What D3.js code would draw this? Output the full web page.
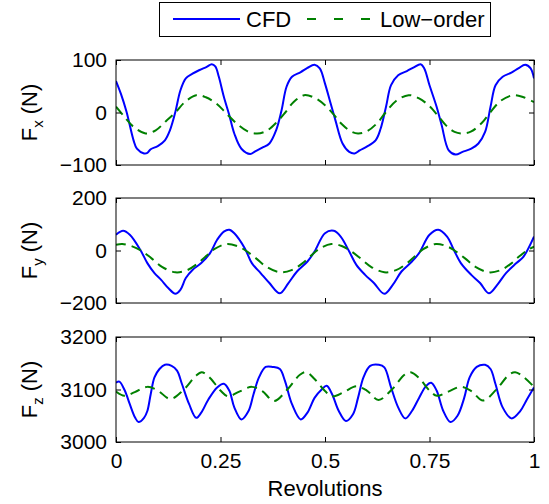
<!DOCTYPE html>
<html>
<head>
<meta charset="utf-8">
<script src="https://cdn.jsdelivr.net/npm/d3@7"></script>
<style>
  html, body { margin: 0; padding: 0; background: #fff; }
  svg { display: block; }
  text { font-family: "Liberation Sans", Arial, Helvetica, sans-serif; fill: #000; }
</style>
</head>
<body>
<svg id="chart" width="549" height="504"></svg>
<script>
// Rotor hub forces over one revolution: CFD vs low-order model

const revTicks = [0, 0.25, 0.5, 0.75, 1];
const revTickLabels = ["0", "0.25", "0.5", "0.75", "1"];
const seriesNames = ["CFD", "Low\u2212order"];

// [revolution, force N]
const fxCfd = [
  [0, 60], [0.012, 35], [0.025, 2], [0.042, -53], [0.05, -69], [0.067, -78], [0.075, -77],
  [0.083, -70], [0.1, -64], [0.117, -53], [0.129, -34], [0.142, 1], [0.154, 42], [0.167, 65],
  [0.183, 74], [0.2, 81], [0.217, 87], [0.229, 92], [0.2375, 88], [0.246, 68], [0.258, 30],
  [0.271, -5], [0.283, -40], [0.3, -69], [0.321, -79], [0.333, -74], [0.35, -67], [0.367, -59],
  [0.383, -34], [0.396, 4], [0.408, 49], [0.421, 68], [0.442, 77], [0.458, 85], [0.475, 91],
  [0.4875, 84], [0.5, 55], [0.5125, 20], [0.525, -15], [0.542, -59], [0.558, -75], [0.571, -78],
  [0.583, -72], [0.6, -65], [0.621, -53], [0.633, -31], [0.646, 11], [0.658, 52], [0.675, 71],
  [0.696, 79], [0.7125, 86], [0.729, 92], [0.7375, 84], [0.75, 52], [0.767, 11], [0.779, -24],
  [0.796, -72], [0.8125, -80], [0.829, -75], [0.85, -69], [0.867, -59], [0.883, -37], [0.896, 11],
  [0.908, 52], [0.925, 68], [0.946, 76], [0.9625, 84], [0.979, 91], [0.992, 84], [1.0, 65]
];
const fxLow = [
  [0, 11], [0.02, -8], [0.04, -26], [0.071, -40], [0.095, -34], [0.12, -16], [0.142, 0],
  [0.165, 20], [0.192, 33], [0.215, 29], [0.24, 17], [0.262, 0], [0.29, -22], [0.315, -36],
  [0.3375, -40], [0.36, -35], [0.385, -18], [0.405, 0], [0.425, 20], [0.45, 33], [0.475, 28],
  [0.5, 14], [0.52, -3], [0.54, -22], [0.56, -35], [0.579, -40], [0.6, -36], [0.625, -20],
  [0.645, 0], [0.67, 22], [0.70, 33], [0.725, 27], [0.75, 12], [0.77, -6], [0.79, -25],
  [0.81, -37], [0.829, -40], [0.85, -36], [0.875, -20], [0.895, 0], [0.92, 22], [0.95, 33],
  [0.975, 29], [1.0, 20]
];

const fyCfd = [
  [0, 60], [0.017, 75], [0.033, 60], [0.058, 3], [0.075, -48], [0.092, -86], [0.108, -112],
  [0.125, -143], [0.142, -165], [0.154, -150], [0.167, -105], [0.183, -74], [0.204, -48],
  [0.225, -10], [0.242, 41], [0.258, 72], [0.271, 79], [0.283, 66], [0.308, 9], [0.325, -48],
  [0.346, -86], [0.367, -124], [0.392, -163], [0.4125, -124], [0.433, -80], [0.458, -42],
  [0.475, -4], [0.5, 66], [0.521, 75], [0.5375, 53], [0.558, -4], [0.575, -55], [0.596, -93],
  [0.617, -124], [0.642, -165], [0.6625, -130], [0.683, -80], [0.708, -42], [0.725, -10],
  [0.75, 60], [0.771, 79], [0.792, 53], [0.808, 3], [0.825, -48], [0.85, -93], [0.871, -124],
  [0.892, -163], [0.9125, -130], [0.933, -86], [0.958, -48], [0.975, -23], [1.0, 53]
];
const fyLow = [
  [0, 22], [0.015, 25], [0.035, 18], [0.06, 0], [0.085, -30], [0.11, -62], [0.142, -83],
  [0.17, -75], [0.195, -50], [0.215, -22], [0.235, 5], [0.265, 25], [0.29, 17], [0.31, 0],
  [0.335, -30], [0.36, -62], [0.392, -83], [0.42, -75], [0.445, -50], [0.465, -22], [0.485, 5],
  [0.515, 25], [0.54, 17], [0.56, 0], [0.585, -30], [0.61, -62], [0.642, -83], [0.67, -75],
  [0.695, -50], [0.715, -22], [0.735, 5], [0.765, 25], [0.79, 17], [0.81, 0], [0.835, -30],
  [0.86, -62], [0.892, -83], [0.92, -75], [0.945, -50], [0.965, -22], [0.985, 2], [1.0, 15]
];

const fzCfd = [
  [0, 3113], [0.008, 3115], [0.021, 3098], [0.033, 3072], [0.046, 3046], [0.054, 3038],
  [0.067, 3046], [0.075, 3059], [0.083, 3091], [0.092, 3123], [0.104, 3139], [0.117, 3147],
  [0.133, 3145], [0.146, 3136], [0.158, 3110], [0.175, 3072], [0.192, 3046], [0.204, 3056],
  [0.221, 3081], [0.242, 3104], [0.258, 3111], [0.271, 3098], [0.283, 3066], [0.3, 3043],
  [0.317, 3059], [0.329, 3091], [0.342, 3123], [0.358, 3143], [0.375, 3143], [0.392, 3139],
  [0.404, 3117], [0.421, 3072], [0.442, 3043], [0.458, 3056], [0.475, 3084], [0.492, 3100],
  [0.504, 3107], [0.517, 3091], [0.533, 3059], [0.55, 3040], [0.567, 3053], [0.579, 3084],
  [0.592, 3123], [0.608, 3145], [0.629, 3147], [0.642, 3142], [0.658, 3104], [0.675, 3066],
  [0.692, 3045], [0.708, 3059], [0.725, 3084], [0.742, 3107], [0.754, 3113], [0.767, 3098],
  [0.783, 3059], [0.8, 3038], [0.817, 3050], [0.833, 3084], [0.846, 3123], [0.863, 3143],
  [0.883, 3147], [0.896, 3139], [0.908, 3110], [0.925, 3066], [0.946, 3045], [0.967, 3059],
  [0.983, 3081], [1.0, 3104]
];
const fzLow = [
  [0, 3096], [0.02, 3088], [0.045, 3095], [0.075, 3105], [0.1, 3098], [0.13, 3082], [0.16, 3098],
  [0.19, 3125], [0.205, 3133], [0.225, 3122], [0.25, 3098], [0.268, 3087], [0.295, 3096],
  [0.325, 3105], [0.35, 3097], [0.378, 3078], [0.41, 3100], [0.44, 3128], [0.455, 3133],
  [0.475, 3120], [0.5, 3097], [0.518, 3087], [0.545, 3095], [0.575, 3106], [0.6, 3098],
  [0.628, 3080], [0.66, 3100], [0.69, 3128], [0.705, 3133], [0.725, 3122], [0.75, 3098],
  [0.768, 3088], [0.795, 3096], [0.825, 3105], [0.85, 3097], [0.878, 3079], [0.91, 3100],
  [0.94, 3128], [0.955, 3133], [0.975, 3124], [1.0, 3105]
];

const panels = [
  { sub: "x", domain: [-100, 100], ticks: [-100, 0, 100], cfd: fxCfd, low: fxLow },
  { sub: "y", domain: [-200, 200], ticks: [-200, 0, 200], cfd: fyCfd, low: fyLow },
  { sub: "z", domain: [3000, 3200], ticks: [3000, 3100, 3200], cfd: fzCfd, low: fzLow }
];

const plotLeft = 116, plotRight = 534, plotH = 105;
const panelTops = [60, 198, 337];
const fontSize = 22;
const tickFont = 21;
const tickLen = 5;
const cfdColor = "#0000ff", lowColor = "#008000";
const fmtY = d3.format("d");

const svg = d3.select("#chart");
const x = d3.scaleLinear().domain([0, 1]).range([plotLeft, plotRight]);

panels.forEach((p, i) => {
  const top = panelTops[i];
  const y = d3.scaleLinear().domain(p.domain).range([top + plotH, top]);
  const g = svg.append("g");
  const clipId = "clip" + i;

  svg.append("clipPath").attr("id", clipId)
    .append("rect").attr("x", plotLeft).attr("y", top)
    .attr("width", plotRight - plotLeft).attr("height", plotH);

  const line = d3.line()
    .x(d => x(d[0])).y(d => y(d[1]))
    .curve(d3.curveCatmullRom.alpha(0.5));

  const lines = g.append("g").attr("clip-path", `url(#${clipId})`);
  lines.append("path").datum(p.cfd)
    .attr("d", line).attr("fill", "none")
    .attr("stroke", cfdColor).attr("stroke-width", 2)
    .attr("stroke-linejoin", "round");
  lines.append("path").datum(p.low)
    .attr("d", line).attr("fill", "none")
    .attr("stroke", lowColor).attr("stroke-width", 2)
    .attr("stroke-dasharray", "10,6");

  // inward ticks on all four sides
  const left = d3.axisLeft(y).tickValues(p.ticks).tickSizeInner(-tickLen)
    .tickSizeOuter(0).tickPadding(9).tickFormat(fmtY);
  const right = d3.axisRight(y).tickValues(p.ticks).tickSizeInner(-tickLen)
    .tickSizeOuter(0).tickFormat("");
  const bottom = d3.axisBottom(x).tickValues(revTicks).tickSizeInner(-tickLen)
    .tickSizeOuter(0).tickPadding(11)
    .tickFormat((d, k) => i === panels.length - 1 ? revTickLabels[k] : "");
  const topAx = d3.axisTop(x).tickValues(revTicks).tickSizeInner(-tickLen)
    .tickSizeOuter(0).tickFormat("");

  const axes = [
    g.append("g").attr("transform", `translate(${plotLeft},0)`).call(left),
    g.append("g").attr("transform", `translate(${plotRight},0)`).call(right),
    g.append("g").attr("transform", `translate(0,${top + plotH})`).call(bottom),
    g.append("g").attr("transform", `translate(0,${top})`).call(topAx)
  ];
  axes.forEach(a => {
    a.select(".domain").remove();
    a.selectAll("line").attr("stroke", "#000").attr("stroke-width", 1);
    a.selectAll("text").attr("font-size", tickFont)
      .attr("font-family", "'Liberation Sans', Arial, sans-serif").attr("fill", "#000");
  });

  g.append("rect")
    .attr("x", plotLeft).attr("y", top)
    .attr("width", plotRight - plotLeft).attr("height", plotH)
    .attr("fill", "none").attr("stroke", "#000").attr("stroke-width", 1);

  // y-axis title: F_sub (N)
  const t = g.append("text")
    .attr("transform", `translate(37,${top + plotH / 2}) rotate(-90)`)
    .attr("text-anchor", "middle")
    .attr("font-size", fontSize);
  t.append("tspan").text("F");
  t.append("tspan").attr("font-size", 15).attr("dy", 6).text(p.sub);
  t.append("tspan").attr("dy", -6).text(" (N)");
});

svg.append("text")
  .attr("x", (plotLeft + plotRight) / 2).attr("y", 496)
  .attr("text-anchor", "middle").attr("font-size", fontSize)
  .text("Revolutions");

// legend
const lg = svg.append("g");
lg.append("rect").attr("x", 159.5).attr("y", 2.5).attr("width", 331).attr("height", 34)
  .attr("fill", "#fff").attr("stroke", "#000").attr("stroke-width", 1);
lg.append("line").attr("x1", 173).attr("x2", 240).attr("y1", 19).attr("y2", 19)
  .attr("stroke", cfdColor).attr("stroke-width", 2);
lg.append("text").attr("x", 246).attr("y", 27).attr("font-size", fontSize).text(seriesNames[0]);
lg.append("line").attr("x1", 307).attr("x2", 373).attr("y1", 19).attr("y2", 19)
  .attr("stroke", lowColor).attr("stroke-width", 2).attr("stroke-dasharray", "9,18");
lg.append("text").attr("x", 380).attr("y", 27).attr("font-size", fontSize).text(seriesNames[1]);
</script>
</body>
</html>
